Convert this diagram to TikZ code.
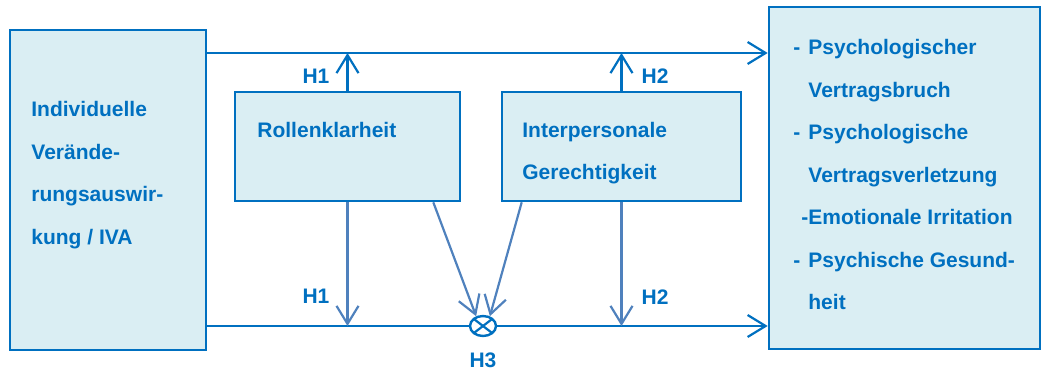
\documentclass[tikz,border=0pt]{standalone}
\usepackage{fontspec}
\setmainfont{Liberation Sans}
\usetikzlibrary{arrows.meta, positioning, shapes.geometric}
\definecolor{ivablue}{HTML}{0070C0}
\definecolor{boxfill}{HTML}{DAEEF3}
\definecolor{linkblue}{HTML}{4F81BD}

\begin{document}
\begin{tikzpicture}[
    x=0.5pt, y=-0.5pt,
    box/.style={draw=ivablue, fill=boxfill, line width=1.3pt, inner sep=0pt},
    txt/.style={text=ivablue, font=\fontsize{10.5}{21.25}\selectfont\bfseries, align=left, anchor=north west, inner sep=0pt},
    hyp/.style={text=ivablue, font=\fontsize{10.5}{12}\selectfont\bfseries, inner sep=0pt},
    link/.style={draw=ivablue, line width=1.1pt},
    >={Straight Barb[length=9pt, width=11pt]}
]
\useasboundingbox (0,0) rectangle (1042,369);

% boxes
\node[box, minimum width=98pt, minimum height=160pt] (iva) at (108,190) {};
\node[box, minimum width=112.5pt, minimum height=54.5pt] (rk) at (347.5,146.5) {};
\node[box, minimum width=119.5pt, minimum height=54.5pt] (ig) at (621.5,146.5) {};
\node[box, minimum width=135.5pt, minimum height=171pt] (out) at (904.5,178) {};

% box texts
\node[txt] (ivatext) at (31,101) {Individuelle\\Verände-\\rungsauswir-\\kung / IVA};
\node[txt] (rktext) at (257,121.5) {Rollenklarheit};
\node[txt] (igtext) at (522,121.5) {Interpersonale\\Gerechtigkeit};
\node[txt] (outtext) at (808,39) {\llap{-\hspace{4pt}}Psychologischer\\Vertragsbruch\\
  \llap{-\hspace{4pt}}Psychologische\\Vertragsverletzung\\\llap{-}Emotionale Irritation\\
  \llap{-\hspace{4pt}}Psychische Gesund-\\heit};

% moderator
\node[ellipse, draw=ivablue, line width=1.2pt, fill=white, minimum width=13pt,
  minimum height=10pt, inner sep=0pt,
  path picture={\draw[ivablue, line width=1.1pt]
    (path picture bounding box.north west) -- (path picture bounding box.south east)
    (path picture bounding box.north east) -- (path picture bounding box.south west);}]
  (mod) at (483,326) {};
\coordinate (upper) at (347,53);

% main paths
\draw[link, ->] (iva.east |- upper) -- (out.west |- upper);
\draw[link] (iva.east |- mod) -- (mod.west);
\draw[link, ->] (mod.east) -- (out.west |- mod);

% direct effects
\draw[link, ->] (rk.north) -- (rk.north |- upper);
\draw[link, ->] (ig.north) -- (ig.north |- upper);
\draw[link, draw=linkblue, ->] (rk.south) -- (rk.south |- mod);
\draw[link, draw=linkblue, ->] (ig.south) -- (ig.south |- mod);

% moderation
\draw[link, draw=linkblue, ->] ([xshift=-14pt]rk.south east) -- (mod.125);
\draw[link, draw=linkblue, ->] ([xshift=10.5pt]ig.south west) -- (mod.55);

% labels
\node[hyp] (h1up) at (316,76) {H1};
\node[hyp] (h1down) at (316,296) {H1};
\node[hyp] (h2up) at (655,76) {H2};
\node[hyp] (h2down) at (655,297) {H2};
\node[hyp] (h3) at (483,360) {H3};

\end{tikzpicture}
\end{document}
